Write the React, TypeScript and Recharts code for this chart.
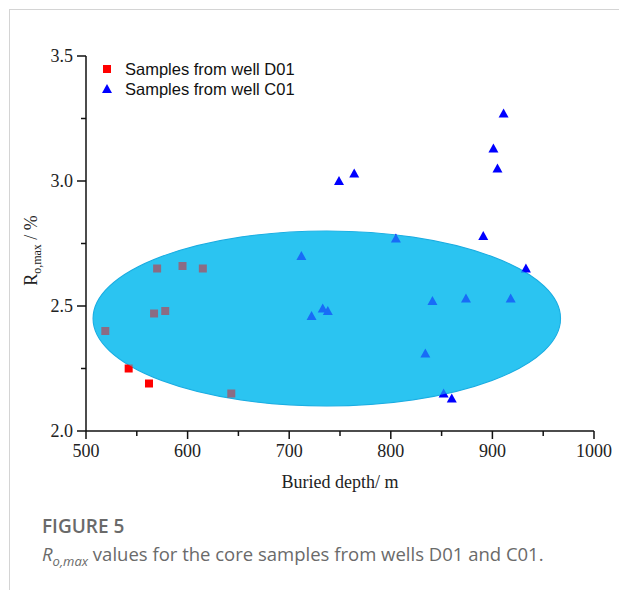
import React from 'react';
import { ScatterChart, Scatter, XAxis, YAxis, ReferenceArea, Legend } from 'recharts';

// buried depth (m) and Ro,max (%) per sample
const d01Depth = [519, 542, 562, 567, 570, 578, 595, 615, 643];
const d01Ro = [2.4, 2.25, 2.19, 2.47, 2.65, 2.48, 2.66, 2.65, 2.15];

const c01Depth = [712, 722, 733, 738, 749, 764, 805, 834, 841, 852, 860, 874, 891, 901, 905, 911, 918, 933];
const c01Ro = [2.7, 2.46, 2.49, 2.48, 3.0, 3.03, 2.77, 2.31, 2.52, 2.15, 2.13, 2.53, 2.78, 3.13, 3.05, 3.27, 2.53, 2.65];

// envelope drawn around the main cluster
const envelopeDepth = [507, 967];
const envelopeRo = [2.1, 2.8];

const depthTicks = [500, 550, 600, 650, 700, 750, 800, 850, 900, 950, 1000];
const depthLabels = [500, 600, 700, 800, 900, 1000];
const roTicks = [2.0, 2.25, 2.5, 2.75, 3.0, 3.25, 3.5];
const roLabels = [2.0, 2.5, 3.0, 3.5];

const seriesNames = ['Samples from well D01', 'Samples from well C01'];

const d01 = d01Depth.map((d, i) => ({ depth: d, ro: d01Ro[i] }));
const c01 = c01Depth.map((d, i) => ({ depth: d, ro: c01Ro[i] }));

const SERIF = '"Liberation Serif", "Times New Roman", serif';
const SANS = '"Liberation Sans", Arial, sans-serif';
const TICK_SIZE = 8;
const TICK_MARGIN = 5;
const ENVELOPE = '#2cc4f1';

const Square = (p: any) => <rect x={p.cx - 4} y={p.cy - 4} width={8} height={8} fill="#f00" />;
const Triangle = (p: any) => (
  <polygon points={`${p.cx - 5},${p.cy + 4} ${p.cx + 5},${p.cy + 4} ${p.cx},${p.cy - 5}`} fill="#00f" />
);

const Ellipse = (p: any) => (
  <ellipse
    cx={p.x + p.width / 2}
    cy={p.y + p.height / 2}
    rx={p.width / 2}
    ry={p.height / 2}
    fill={ENVELOPE}
    fillOpacity={p.fillOpacity}
    stroke={p.stroke}
    strokeWidth={1.2}
  />
);

const YTick = (p: any) => {
  const v = p.payload.value;
  const major = roLabels.includes(v);
  const ax = p.x + TICK_SIZE + TICK_MARGIN;
  return (
    <g>
      <line x1={ax} x2={ax - (major ? 9 : 5)} y1={p.y} y2={p.y} stroke="#111" strokeWidth={1.5} />
      {major && (
        <text x={p.x} y={p.y} dy="0.35em" textAnchor="end" fontFamily={SERIF} fontSize={18} fill="#222">
          {v.toFixed(1)}
        </text>
      )}
    </g>
  );
};

const XTick = (p: any) => {
  const v = p.payload.value;
  const major = depthLabels.includes(v);
  const ay = p.y - TICK_SIZE - TICK_MARGIN;
  return (
    <g>
      <line x1={p.x} x2={p.x} y1={ay} y2={ay + (major ? 8 : 5)} stroke="#111" strokeWidth={1.5} />
      {major && (
        <text x={p.x} y={p.y} dy="0.72em" textAnchor="middle" fontFamily={SERIF} fontSize={18} fill="#222">
          {v}
        </text>
      )}
    </g>
  );
};

const RoLabel = (p: any) => {
  const vb = p.viewBox;
  const x = vb.x + 11;
  const y = vb.y + vb.height / 2 + 7;
  return (
    <text x={x} y={y} transform={`rotate(-90 ${x} ${y})`} textAnchor="middle" fontFamily={SERIF} fontSize={18} fill="#222">
      R
      <tspan fontSize={12} dy={4}>o,max</tspan>
      <tspan dy={-4}> / %</tspan>
    </text>
  );
};

const LegendBox = (props: any) => {
  const items = [...props.payload].sort((a: any, b: any) => seriesNames.indexOf(a.value) - seriesNames.indexOf(b.value));
  return (
    <div style={{ fontFamily: SANS, fontSize: 16.5, color: '#111', lineHeight: '20px' }}>
      {items.map((e: any) => (
        <div key={e.value} style={{ display: 'flex', alignItems: 'center' }}>
          <svg width={18} height={20} style={{ marginRight: 9 }}>
            {e.type === 'square' ? (
              <rect x={5} y={6} width={8} height={8} fill={e.color} />
            ) : (
              <polygon points="4,14 14,14 9,5" fill={e.color} />
            )}
          </svg>
          <span>{e.value}</span>
        </div>
      ))}
    </div>
  );
};

export default function App() {
  return (
    <div style={{ position: 'absolute', left: 0, top: 0, width: 619, height: 590, background: '#fff', overflow: 'hidden' }}>
      <div
        style={{
          position: 'absolute',
          left: 9,
          top: 9,
          width: 640,
          height: 620,
          borderTop: '1px solid #d4d4d4',
          borderLeft: '1px solid #d4d4d4',
        }}
      />
      <div style={{ position: 'absolute', left: 0, top: 0 }}>
        <ScatterChart width={619} height={590} margin={{ top: 56, right: 25, bottom: 129, left: 26 }}>
          <XAxis
            type="number"
            dataKey="depth"
            domain={[500, 1000]}
            ticks={depthTicks}
            interval={0}
            height={30}
            allowDataOverflow
            stroke="#111"
            strokeWidth={1.5}
            tickLine={false}
            tickSize={TICK_SIZE}
            tickMargin={TICK_MARGIN}
            tick={<XTick />}
            label={{ value: 'Buried depth/ m', position: 'bottom', offset: 14, fontFamily: SERIF, fontSize: 18, fill: '#222' }}
          />
          <YAxis
            type="number"
            dataKey="ro"
            domain={[2.0, 3.5]}
            ticks={roTicks}
            interval={0}
            width={60}
            allowDataOverflow
            stroke="#111"
            strokeWidth={1.5}
            tickLine={false}
            tickSize={TICK_SIZE}
            tickMargin={TICK_MARGIN}
            tick={<YTick />}
            label={{ content: <RoLabel /> }}
          />
          <ReferenceArea
            x1={envelopeDepth[0]}
            x2={envelopeDepth[1]}
            y1={envelopeRo[0]}
            y2={envelopeRo[1]}
            ifOverflow="visible"
            shape={(p: any) => <Ellipse {...p} fillOpacity={1} stroke="#17a9e0" />}
          />
          <Scatter name={seriesNames[0]} data={d01} legendType="square" fill="#f00" shape={Square} isAnimationActive={false} />
          <Scatter name={seriesNames[1]} data={c01} legendType="triangle" fill="#00f" shape={Triangle} isAnimationActive={false} />
          <ReferenceArea
            x1={envelopeDepth[0]}
            x2={envelopeDepth[1]}
            y1={envelopeRo[0]}
            y2={envelopeRo[1]}
            ifOverflow="visible"
            zIndex={700}
            shape={(p: any) => <Ellipse {...p} fillOpacity={0.55} stroke="none" />}
          />
          <Legend
            layout="vertical"
            align="center"
            verticalAlign="middle"
            content={<LegendBox />}
            wrapperStyle={{ position: 'absolute', top: 59, left: 98, width: 'auto' }}
          />
        </ScatterChart>
      </div>
      <div
        style={{
          position: 'absolute',
          left: 42,
          top: 513,
          fontFamily: '"Open Sans", sans-serif',
          fontSize: 19,
          fontWeight: 600,
          color: '#6a6a6a',
        }}
      >
        FIGURE 5
      </div>
      <div
        style={{
          position: 'absolute',
          left: 42,
          top: 541,
          fontFamily: '"Open Sans", sans-serif',
          fontSize: 18.5,
          color: '#6a6a6a',
          whiteSpace: 'nowrap',
        }}
      >
        <i>
          R<sub style={{ fontSize: 13 }}>o,max</sub>
        </i>{' '}
        values for the core samples from wells D01 and C01.
      </div>
    </div>
  );
}
